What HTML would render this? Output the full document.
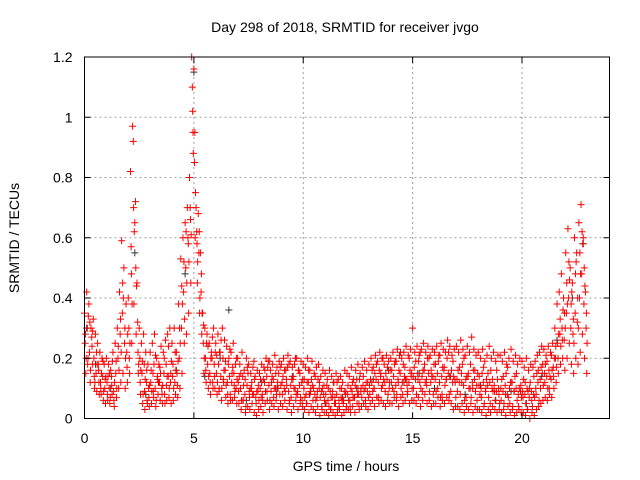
<!DOCTYPE html>
<html><head><meta charset="utf-8">
<style>
html,body{margin:0;padding:0;background:#fff;}
svg{display:block;font-family:"Liberation Sans",Arial,sans-serif;}
</style></head>
<body>
<svg id="chart" width="640" height="480" viewBox="0 0 640 480" xmlns="http://www.w3.org/2000/svg">
<rect width="640" height="480" fill="#fff"/>
<g id="grid"></g>
<g id="black"></g>
<g id="red"></g>
<g id="axes"></g>
<text x="345" y="32" font-size="14" text-anchor="middle">Day 298 of 2018, SRMTID for receiver jvgo</text>
<text x="346" y="471" font-size="14" text-anchor="middle">GPS time / hours</text>
<text x="0" y="0" font-size="14" text-anchor="middle" transform="translate(19,238) rotate(-90)">SRMTID / TECUs</text>
</svg>
<script>
const xTicks=[0,5,10,15,20];
const yTicks=[0,0.2,0.4,0.6,0.8,1,1.2];
const yTickLabels=["0","0.2","0.4","0.6","0.8","1","1.2"];
const t0=0, dt=0.1;
const seriesOffsets=[0,0.03,0.06,0.045,0.075];
const seriesA=[.35,.42,.38,.30,.33,.28,.25,.22,.20,.18,
.20,.18,.16,.22,.25,.30,.42,.59,.50,.38,
.40,.82,.97,.65,.45,.30,.25,.28,.22,.18,
.22,.25,.28,.20,.18,.24,.22,.26,.28,.30,
.25,.30,.22,.38,.53,.60,.65,.70,.80,1.20,
1.16,.70,.68,.55,.35,.30,.28,.25,.22,.30,
.25,.28,.22,.30,.26,.24,.20,.22,.25,.18,
.20,.18,.22,.16,.20,.18,.15,.17,.14,.16,
.15,.18,.17,.20,.19,.16,.18,.21,.17,.19,
.18,.20,.16,.21,.19,.17,.18,.20,.16,.19,
.18,.17,.20,.16,.19,.15,.17,.18,.14,.16,
.15,.13,.16,.14,.12,.15,.13,.14,.12,.16,
.15,.14,.17,.13,.16,.18,.15,.17,.19,.16,
.18,.20,.17,.21,.19,.22,.20,.18,.21,.19,
.20,.22,.19,.23,.21,.20,.22,.24,.21,.23,
.30,.22,.24,.21,.23,.25,.22,.24,.21,.23,
.22,.24,.21,.25,.23,.22,.26,.24,.21,.23,
.24,.22,.26,.23,.21,.24,.22,.27,.23,.21,
.22,.20,.23,.19,.21,.24,.20,.22,.19,.21,
.21,.19,.22,.18,.20,.23,.19,.21,.18,.20,
.19,.17,.20,.16,.18,.17,.19,.21,.22,.24,
.23,.21,.24,.22,.25,.30,.38,.42,.48,.40,
.55,.63,.50,.45,.60,.55,.65,.71,.60,.42];
const seriesB=[.25,.30,.22,.27,.20,.15,.18,.12,.14,.10,
.12,.10,.14,.09,.15,.20,.28,.35,.25,.22,
.30,.57,.92,.72,.32,.20,.15,.18,.12,.10,
.12,.15,.10,.14,.12,.10,.15,.18,.14,.12,
.14,.12,.15,.20,.30,.42,.50,.60,.70,1.10,
.85,.62,.55,.42,.25,.20,.18,.15,.20,.18,
.15,.18,.14,.20,.16,.12,.14,.12,.15,.10,
.12,.10,.14,.08,.11,.09,.10,.08,.07,.09,
.10,.08,.12,.14,.11,.09,.13,.10,.12,.08,
.12,.10,.13,.09,.11,.13,.10,.08,.11,.12,
.10,.08,.12,.09,.11,.08,.07,.10,.09,.08,
.08,.06,.09,.07,.05,.08,.06,.07,.05,.08,
.08,.06,.09,.07,.10,.08,.09,.11,.10,.09,
.11,.12,.10,.13,.12,.14,.11,.12,.13,.10,
.12,.14,.11,.13,.15,.12,.14,.13,.12,.14,
.14,.13,.15,.12,.14,.16,.13,.15,.12,.14,
.13,.15,.12,.14,.16,.13,.15,.14,.12,.13,
.13,.12,.15,.11,.13,.14,.10,.12,.13,.11,
.11,.10,.12,.09,.11,.12,.10,.11,.09,.10,
.10,.09,.11,.08,.10,.12,.09,.10,.08,.09,
.09,.08,.10,.07,.09,.08,.10,.12,.13,.15,
.15,.14,.16,.13,.17,.20,.25,.28,.30,.26,
.35,.40,.30,.28,.35,.32,.40,.48,.38,.30];
const seriesC=[.15,.20,.12,.18,.10,.09,.12,.08,.06,.05,
.06,.05,.08,.04,.07,.10,.12,.15,.10,.12,
.15,.25,.38,.28,.15,.08,.05,.03,.06,.04,
.05,.07,.04,.08,.06,.05,.08,.06,.07,.05,
.06,.08,.07,.10,.15,.25,.28,.35,.45,.95,
.60,.45,.35,.28,.15,.12,.10,.08,.12,.10,
.08,.10,.06,.12,.07,.05,.08,.06,.07,.05,
.05,.03,.06,.02,.04,.03,.05,.02,.01,.03,
.04,.02,.05,.06,.03,.05,.04,.06,.03,.05,
.04,.06,.03,.05,.02,.04,.06,.03,.05,.04,
.03,.05,.02,.04,.03,.02,.04,.01,.03,.02,
.02,.01,.03,.02,.01,.02,.03,.01,.02,.03,
.03,.02,.04,.02,.05,.03,.04,.05,.04,.03,
.05,.06,.04,.07,.05,.06,.05,.04,.06,.05,
.05,.07,.06,.04,.07,.05,.06,.08,.05,.06,
.06,.05,.07,.04,.06,.08,.05,.06,.04,.05,
.05,.07,.04,.06,.05,.07,.06,.05,.03,.04,
.04,.03,.05,.02,.04,.03,.05,.02,.04,.03,
.03,.02,.04,.01,.03,.02,.04,.03,.02,.03,
.02,.03,.01,.04,.02,.03,.01,.02,.03,.02,
.02,.01,.03,.00,.02,.01,.03,.04,.05,.06,
.07,.06,.08,.07,.10,.12,.15,.18,.20,.16,
.20,.25,.18,.15,.20,.18,.22,.28,.20,.15];
const seriesD=[.28,.18,.32,.24,.14,.22,.16,.10,.19,.13,
.08,.15,.11,.06,.19,.24,.33,.45,.30,.17,
.20,.48,.70,.50,.22,.12,.19,.09,.16,.07,
.16,.09,.21,.13,.17,.08,.20,.11,.24,.15,
.18,.22,.11,.30,.44,.52,.62,.58,.66,1.02,
.95,.58,.62,.48,.31,.16,.24,.12,.27,.14,
.21,.09,.26,.13,.19,.08,.23,.15,.11,.20,
.09,.15,.06,.13,.17,.07,.12,.19,.05,.11,
.13,.06,.16,.09,.19,.12,.07,.15,.10,.17,
.08,.16,.11,.18,.07,.14,.20,.09,.15,.06,
.13,.05,.16,.10,.06,.14,.09,.12,.04,.11,
.05,.10,.03,.09,.07,.12,.04,.10,.06,.09,
.11,.04,.12,.07,.13,.05,.10,.14,.06,.12,
.08,.16,.10,.18,.07,.15,.20,.09,.17,.12,
.16,.09,.19,.12,.22,.08,.17,.11,.20,.15,
.10,.19,.13,.22,.09,.18,.11,.20,.16,.08,
.18,.10,.21,.08,.17,.13,.22,.09,.19,.12,
.09,.17,.12,.20,.07,.15,.18,.10,.16,.06,
.14,.07,.17,.10,.15,.05,.13,.09,.16,.08,
.06,.14,.08,.17,.05,.12,.09,.15,.04,.11,
.07,.12,.03,.10,.06,.14,.08,.16,.10,.18,
.12,.19,.10,.21,.14,.24,.20,.33,.26,.35,
.45,.52,.38,.33,.48,.40,.55,.62,.50,.35];
const seriesE=[.20,.34,.16,.29,.12,.18,.08,.15,.09,.14,
.14,.07,.19,.12,.10,.16,.22,.40,.20,.28,
.25,.38,.62,.44,.18,.16,.08,.13,.05,.11,
.09,.18,.06,.12,.15,.11,.05,.14,.10,.19,
.10,.16,.19,.25,.38,.33,.45,.52,.61,.88,
.75,.52,.40,.35,.20,.25,.14,.20,.10,.22,
.12,.22,.10,.16,.11,.18,.06,.17,.09,.13,
.14,.06,.11,.04,.15,.10,.08,.13,.09,.06,
.07,.13,.09,.17,.06,.14,.10,.08,.15,.11,
.14,.09,.17,.06,.13,.10,.08,.16,.07,.13,
.07,.12,.08,.13,.10,.06,.13,.07,.10,.06,
.11,.04,.07,.12,.05,.03,.10,.06,.09,.04,
.06,.10,.07,.11,.08,.13,.07,.09,.12,.07,
.13,.09,.15,.07,.16,.10,.13,.15,.08,.16,
.10,.18,.08,.16,.10,.18,.13,.09,.16,.10,
.17,.08,.19,.10,.16,.12,.20,.09,.14,.18,
.09,.19,.07,.17,.11,.20,.08,.16,.14,.07,
.16,.08,.18,.06,.14,.10,.07,.16,.09,.15,
.08,.15,.05,.13,.07,.16,.09,.06,.13,.05,
.13,.05,.15,.07,.12,.04,.14,.06,.10,.07,
.13,.05,.09,.12,.04,.07,.15,.06,.17,.11,
.18,.10,.14,.16,.20,.17,.28,.24,.36,.30,
.38,.46,.42,.25,.52,.30,.48,.58,.44,.25];
const blackTimes=[0.1,0.5,1.2,2.3,2.8,3.4,4.2,4.6,5.0,5.5,6.2,6.6,7.4,8.1,8.8,9.5,10.3,11.0,11.8,12.5,13.2,13.9,14.6,15.3,16.0,16.7,17.4,18.1,18.8,19.5,20.2,20.9,21.6,22.3,22.8];
const blackValues=[.30,.18,.10,.55,.08,.12,.16,.48,1.15,.14,.20,.36,.06,.12,.10,.14,.08,.05,.07,.10,.13,.16,.12,.15,.10,.14,.08,.11,.06,.09,.05,.14,.26,.40,.58];

const NS="http://www.w3.org/2000/svg";
const L=84.5,R=609.5,T=57,B=418.5,XMAX=24,YMAX=1.2;
function xs(v){return L+(v/XMAX)*(R-L);}
function ys(v){return B-(v/YMAX)*(B-T);}
function mk(tag,attrs,parent){const e=document.createElementNS(NS,tag);for(const k in attrs)e.setAttribute(k,attrs[k]);parent.appendChild(e);return e;}
const grid=document.getElementById('grid'),axes=document.getElementById('axes');
xTicks.forEach(v=>{
  const x=xs(v);
  if(v>0){const g=mk('line',{x1:x,x2:x,y1:T,y2:B,stroke:'#a0a0a0','stroke-dasharray':'2,3','stroke-width':1},grid);
  
  }
  const t1=mk('line',{x1:x,x2:x,y1:B,y2:B-6,stroke:'#000'},axes);
  
  
  const t2=mk('line',{x1:x,x2:x,y1:T,y2:T+6,stroke:'#000'},axes);
  
  
  const lb=mk('text',{x:x,y:443,'font-size':14,'text-anchor':'middle'},axes);
  lb.textContent=String(v);
  
  
});
yTicks.forEach((v,i)=>{
  const y=ys(v);
  if(v>0&&v<YMAX){const g=mk('line',{x1:L,x2:R,y1:y,y2:y,stroke:'#a0a0a0','stroke-dasharray':'2,3','stroke-width':1},grid);
  
  }
  const t1=mk('line',{x1:L,x2:L+6,y1:y,y2:y,stroke:'#000'},axes);
  
  
  const t2=mk('line',{x1:R,x2:R-6,y1:y,y2:y,stroke:'#000'},axes);
  
  
  const lb=mk('text',{x:L-12,y:y+5,'font-size':14,'text-anchor':'end'},axes);
  lb.textContent=yTickLabels[i];
  
  
});
const frame=mk('rect',{x:L,y:T,width:R-L,height:B-T,fill:'none',stroke:'#000','stroke-width':1},axes);


function cross(g,t,v,color){
  const x=xs(t),y=ys(v);
  const p=mk('path',{d:`M${x-3.5},${y}h7M${x},${y-3.5}v7`,stroke:color,'stroke-width':1,fill:'none'},g);
  
  
}
const bg=document.getElementById('black');
blackTimes.forEach((t,i)=>cross(bg,t,blackValues[i],'#333'));
const rg=document.getElementById('red');
[seriesA,seriesB,seriesC,seriesD,seriesE].forEach((s,k)=>s.forEach((v,i)=>cross(rg,t0+seriesOffsets[k]+i*dt,v,'#ff0000')));
</script>
</body></html>
